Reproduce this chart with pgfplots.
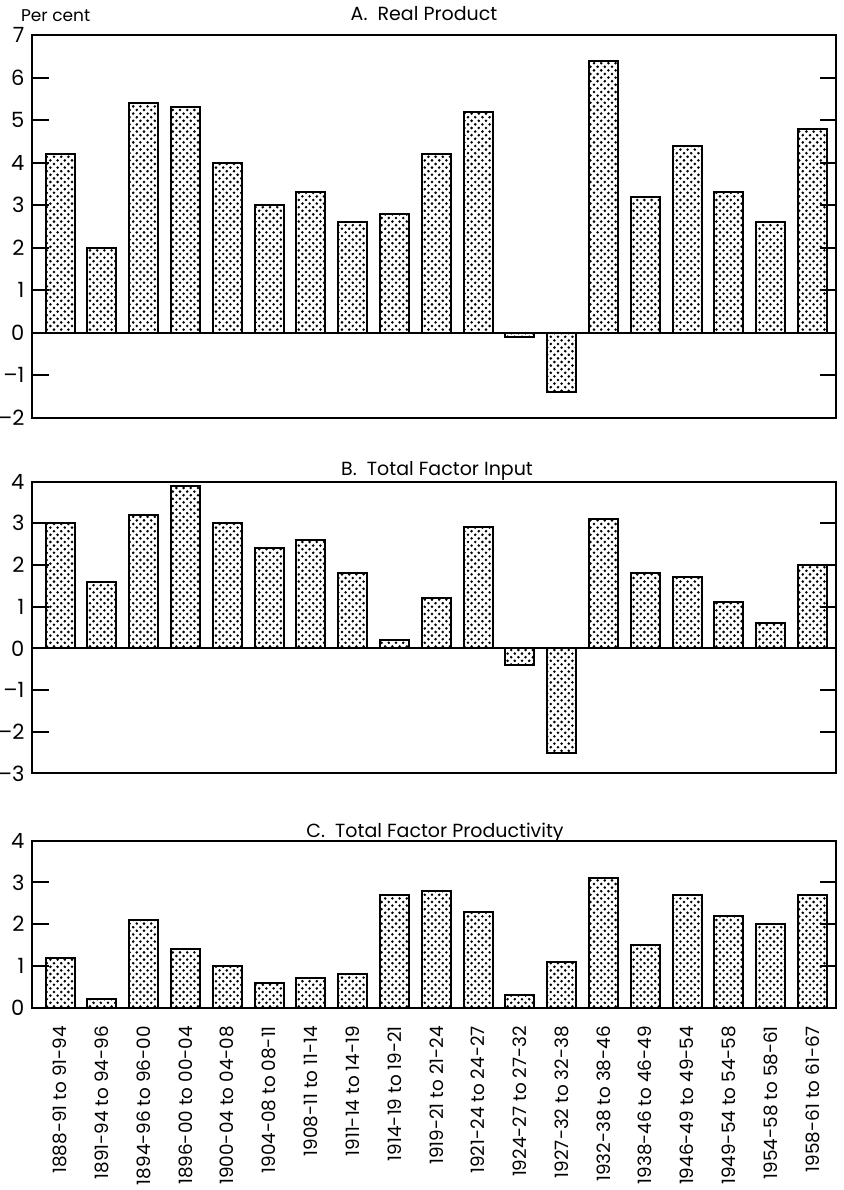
\documentclass[border=0pt]{standalone}
\usepackage{fontspec}
\setmainfont{Poppins}
\usepackage{pgfplots}
\pgfplotsset{compat=1.18}
\usetikzlibrary{patterns}
\pgfdeclarepatternformonly{bookdots}{\pgfpoint{-1pt}{-1pt}}{\pgfpoint{4.6pt}{4.6pt}}{\pgfpoint{3.6pt}{3.6pt}}{%
  \pgfpathcircle{\pgfpoint{0pt}{0pt}}{0.72pt}%
  \pgfpathcircle{\pgfpoint{1.8pt}{1.8pt}}{0.72pt}%
  \pgfusepath{fill}%
}
\pgfplotsset{panel/.style={
  scale only axis, width=401.75pt,
  xmin=-0.66, xmax=18.56,
  anchor=south west,
  axis line style={line width=1pt},
  ytick pos=both, yticklabel pos=left,
  tick align=inside, major tick length=8pt,
  tick style={line width=1pt, black},
  ybar, bar width=14.5pt,
  xtick=\empty,
  tick label style={font=\fontsize{10.5}{11}\selectfont},
  yticklabel style={xshift=-0.5pt},
}}
\begin{document}
\begin{tikzpicture}
\path[use as bounding box] (0,0) rectangle (421.5pt,-595pt);
\node[anchor=base west, font=\fontsize{8.5}{9}\selectfont] at (7pt,-10.5pt) {Per cent};
\node[anchor=base, font=\fontsize{9.5}{10}\selectfont] at (212pt,-10pt) {A.~ Real Product};
\node[anchor=base, font=\fontsize{9.5}{10}\selectfont] at (218.5pt,-237.5pt) {B.~ Total Factor Input};
\node[anchor=base, font=\fontsize{9.5}{10}\selectfont] at (217.5pt,-418.5pt) {C.~ Total Factor Productivity};

% Panel A
\begin{axis}[panel, at={(16.25pt,-208.85pt)}, height=191.25pt,
  ymin=-2, ymax=7, ytick={-2,...,7},
  yticklabels={–2,–1,0,1,2,3,4,5,6,7}]
\addplot[draw=black, line width=1pt, pattern=bookdots] coordinates {
(0,4.2) (1,2.0) (2,5.4) (3,5.3) (4,4.0) (5,3.0) (6,3.3) (7,2.6) (8,2.8) (9,4.2)
(10,5.2) (11,-0.1) (12,-1.4) (13,6.4) (14,3.2) (15,4.4) (16,3.3) (17,2.6) (18,4.8)};
\draw[line width=1pt] (axis cs:-0.66,0) -- (axis cs:18.56,0);
\end{axis}

% Panel B
\begin{axis}[panel, at={(16.25pt,-386.7pt)}, height=145.95pt,
  ymin=-3, ymax=4, ytick={-3,...,4},
  yticklabels={–3,–2,–1,0,1,2,3,4}]
\addplot[draw=black, line width=1pt, pattern=bookdots] coordinates {
(0,3.0) (1,1.6) (2,3.2) (3,3.9) (4,3.0) (5,2.4) (6,2.6) (7,1.8) (8,0.2) (9,1.2)
(10,2.9) (11,-0.4) (12,-2.5) (13,3.1) (14,1.8) (15,1.7) (16,1.1) (17,0.6) (18,2.0)};
\draw[line width=1pt] (axis cs:-0.66,0) -- (axis cs:18.56,0);
\end{axis}

% Panel C
\begin{axis}[panel, at={(16.25pt,-503.85pt)}, height=83.5pt,
  ymin=0, ymax=4, ytick={0,...,4},
  yticklabels={0,1,2,3,4},
  xtick={0,...,18}, xtick style={draw=none},
  xticklabel style={rotate=90, anchor=east, inner sep=1pt, font=\fontsize{9.2}{10}\selectfont},
  xticklabels={1888-91 to 91-94,1891-94 to 94-96,1894-96 to 96-00,1896-00 to 00-04,
    1900-04 to 04-08,1904-08 to 08-11,1908-11 to 11-14,1911-14 to 14-19,
    1914-19 to 19-21,1919-21 to 21-24,1921-24 to 24-27,1924-27 to 27-32,
    1927-32 to 32-38,1932-38 to 38-46,1938-46 to 46-49,1946-49 to 49-54,
    1949-54 to 54-58,1954-58 to 58-61,1958-61 to 61-67}]
\addplot[draw=black, line width=1pt, pattern=bookdots] coordinates {
(0,1.2) (1,0.2) (2,2.1) (3,1.4) (4,1.0) (5,0.6) (6,0.7) (7,0.8) (8,2.7) (9,2.8)
(10,2.3) (11,0.3) (12,1.1) (13,3.1) (14,1.5) (15,2.7) (16,2.2) (17,2.0) (18,2.7)};
\end{axis}
\end{tikzpicture}
\end{document}
